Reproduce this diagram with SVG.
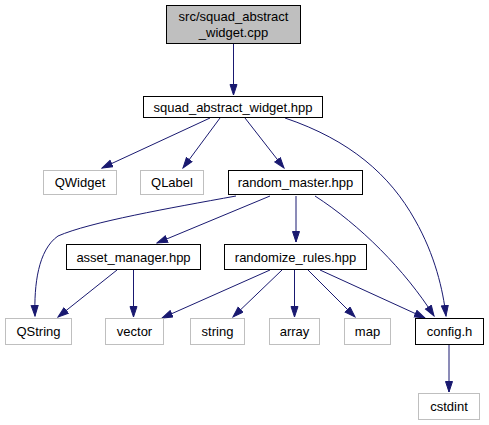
<svg xmlns="http://www.w3.org/2000/svg" width="489" height="425" viewBox="0 0 489 425">
<style>
text{font-family:"Liberation Sans",Arial,sans-serif;font-size:13px;fill:#000;text-anchor:middle}
.n{fill:#fff;stroke:#000;stroke-width:1}
.g{fill:#fff;stroke:#bfbfbf;stroke-width:1}
.r{fill:#bfbfbf;stroke:#000;stroke-width:1}
.e{fill:none;stroke:#191970;stroke-width:1;marker-end:url(#a)}
</style>
<defs>
<marker id="a" markerUnits="userSpaceOnUse" markerWidth="12" markerHeight="10" refX="11" refY="4" orient="auto">
<path d="M0.5,0.5 L11,4 L0.5,7.5 z" fill="#191970" stroke="#191970"/>
</marker>
</defs>
<g id="edges">
<path class="e" d="M233.5,44 L233.5,95"/>
<path class="e" d="M210,118 L102,168"/>
<path class="e" d="M220,118 L183,168"/>
<path class="e" d="M245,118 L284,168"/>
<path class="e" d="M285,118 C350,140 390,175 415,220 C435,255 443,290 446,316"/>
<path class="e" d="M236,196 C170,208 90,222 58,236 C38,250 34,285 35,316"/>
<path class="e" d="M270,196 L157,243"/>
<path class="e" d="M296,196 L296,242"/>
<path class="e" d="M315,196 C360,225 405,270 434,316"/>
<path class="e" d="M117,270 L58,317"/>
<path class="e" d="M133.5,270 L133.5,317"/>
<path class="e" d="M270,270 L162,318"/>
<path class="e" d="M282,270 L233,317"/>
<path class="e" d="M294.5,270 L294.5,317"/>
<path class="e" d="M308,270 L355,317"/>
<path class="e" d="M320,270 L425,318"/>
<path class="e" d="M449,345 L449,392"/>
</g>
<g id="root"><rect class="r" x="166.5" y="5.5" width="134" height="38"/><text x="233.5" y="21">src/squad_abstract</text><text x="233.5" y="37">_widget.cpp</text></g>
<g id="squad_abstract_widget_hpp"><rect class="n" x="143.5" y="96.5" width="179" height="21"/><text x="233" y="111.5">squad_abstract_widget.hpp</text></g>
<g id="QWidget"><rect class="g" x="43.5" y="170.5" width="73" height="24"/><text x="80" y="187">QWidget</text></g>
<g id="QLabel"><rect class="g" x="140.5" y="170.5" width="63" height="24"/><text x="172" y="187">QLabel</text></g>
<g id="random_master_hpp"><rect class="n" x="228.5" y="170.5" width="134" height="24"/><text x="295.5" y="187">random_master.hpp</text></g>
<g id="asset_manager_hpp"><rect class="n" x="66.5" y="244.5" width="134" height="25"/><text x="133.5" y="261.5">asset_manager.hpp</text></g>
<g id="randomize_rules_hpp"><rect class="n" x="224.5" y="244.5" width="142" height="25"/><text x="295.5" y="261.5">randomize_rules.hpp</text></g>
<g id="QString"><rect class="g" x="5.5" y="318.5" width="66" height="26"/><text x="38.5" y="336">QString</text></g>
<g id="vector"><rect class="g" x="105.5" y="318.5" width="58" height="26"/><text x="134.5" y="336">vector</text></g>
<g id="string"><rect class="g" x="190.5" y="318.5" width="54" height="26"/><text x="217.5" y="336">string</text></g>
<g id="array"><rect class="g" x="269.5" y="318.5" width="50" height="26"/><text x="294.5" y="336">array</text></g>
<g id="map"><rect class="g" x="344.5" y="318.5" width="46" height="26"/><text x="367.5" y="336">map</text></g>
<g id="config_h"><rect class="n" x="415.5" y="318.5" width="68" height="26"/><text x="449.5" y="336">config.h</text></g>
<g id="cstdint"><rect class="g" x="418.5" y="393.5" width="61" height="26"/><text x="449" y="411">cstdint</text></g>
</svg>
